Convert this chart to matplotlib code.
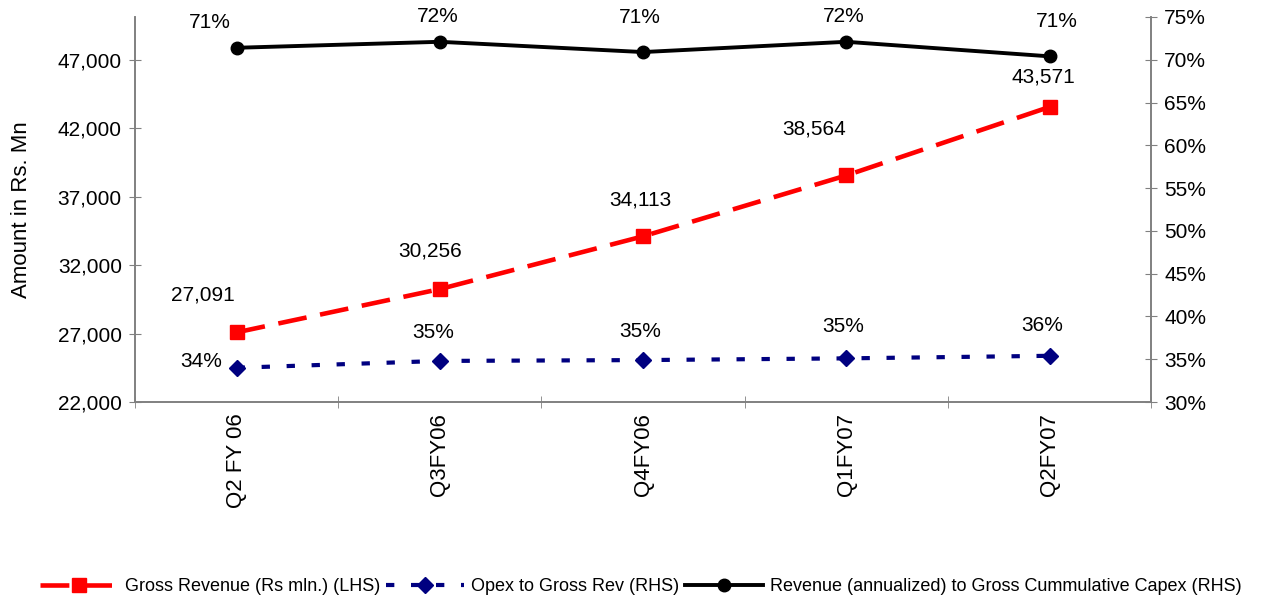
import matplotlib.pyplot as plt
from matplotlib.ticker import FuncFormatter, FixedLocator

plt.rcParams['font.family'] = ['Liberation Sans', 'DejaVu Sans']

quarters = ['Q2 FY 06', 'Q3FY06', 'Q4FY06', 'Q1FY07', 'Q2FY07']
gross_revenue = [27091, 30256, 34113, 38564, 43571]
opex_ratio = [34.0, 34.8, 34.9, 35.1, 35.4]
capex_ratio = [71.4, 72.1, 70.9, 72.1, 70.4]
opex_labels = ['34%', '35%', '35%', '35%', '36%']
capex_labels = ['71%', '72%', '71%', '72%', '71%']

x = list(range(len(quarters)))
grey = '#808080'
fs = 15

fig = plt.figure(figsize=(12.69, 6), dpi=100)
ax = fig.add_axes([0.1064, 0.33, 0.8007, 0.6417])
ax2 = ax.twinx()

l1, = ax.plot(x, gross_revenue, color='#ff0000', lw=3.3, ls=(0, (6.3, 3)),
              marker='s', ms=10, mec='#ff0000', label='Gross Revenue (Rs mln.) (LHS)')
l2, = ax2.plot(x, opex_ratio, color='#000080', lw=3.0, ls=(0, (2, 4)),
               marker='D', ms=8.5, label='Opex to Gross Rev (RHS)')
l3, = ax2.plot(x, capex_ratio, color='black', lw=2.8, marker='o', ms=9,
               label='Revenue (annualized) to Gross Cummulative Capex (RHS)')


def px(offs):
    return [(dx * 0.72, dy * 0.72) for dx, dy in offs]


# value labels (offsets in pixels, label centre relative to point)
red_off = px([(-34, 37), (-10, 38), (-3, 36), (-32, 46), (-6, 30)])
for xi, v, off in zip(x, gross_revenue, red_off):
    ax.annotate(f'{v:,}', (xi, v), xytext=off, textcoords='offset points',
                ha='center', va='center', fontsize=fs)
blue_off = px([(-35, 6), (-7, 28), (-3, 29), (-3, 32), (-7, 30)])
for xi, v, t, off in zip(x, opex_ratio, opex_labels, blue_off):
    ax2.annotate(t, (xi, v), xytext=off, textcoords='offset points',
                 ha='center', va='center', fontsize=fs)
black_off = px([(-27, 25), (-2, 25), (-3, 35), (-3, 25), (7, 35)])
for xi, v, t, off in zip(x, capex_ratio, capex_labels, black_off):
    ax2.annotate(t, (xi, v), xytext=off, textcoords='offset points',
                 ha='center', va='center', fontsize=fs)

ax.set_xlim(-0.5, 4.5)
ax.set_ylim(22000, 50150)
ax.set_yticks([22000, 27000, 32000, 37000, 42000, 47000])
ax.yaxis.set_major_formatter(FuncFormatter(lambda v, p: f'{int(v):,}'))
ax2.set_ylim(30, 75)
ax2.set_yticks(range(30, 76, 5))
ax2.yaxis.set_major_formatter(FuncFormatter(lambda v, p: f'{int(v)}%'))

ax.set_xticks(x)
ax.set_xticklabels(quarters, rotation=90, fontsize=16)
ax.xaxis.set_minor_locator(FixedLocator([i - 0.5 for i in range(len(quarters) + 1)]))
ax.tick_params(axis='x', which='major', length=0, pad=8)
ax.tick_params(axis='x', which='minor', length=9, direction='inout', color=grey)
ax.tick_params(axis='y', direction='inout', length=9, color=grey, labelsize=fs, pad=5)
ax2.tick_params(axis='y', direction='inout', length=9, color=grey, labelsize=fs, pad=5)

ax.set_ylabel('Amount in Rs. Mn', fontsize=16)
ax.yaxis.set_label_coords(-0.101, 0.5)

for a in (ax, ax2):
    a.spines['top'].set_visible(False)
    for s in ('left', 'right', 'bottom'):
        a.spines[s].set_color(grey)
        a.spines[s].set_linewidth(1.2)

fig.legend(handles=[l1, l2, l3], loc='center', bbox_to_anchor=(0.505, 0.022),
           ncol=3, frameon=False, fontsize=13, handlelength=4.3,
           columnspacing=0.35, handletextpad=0.4)

plt.savefig('out.png', dpi=100)
